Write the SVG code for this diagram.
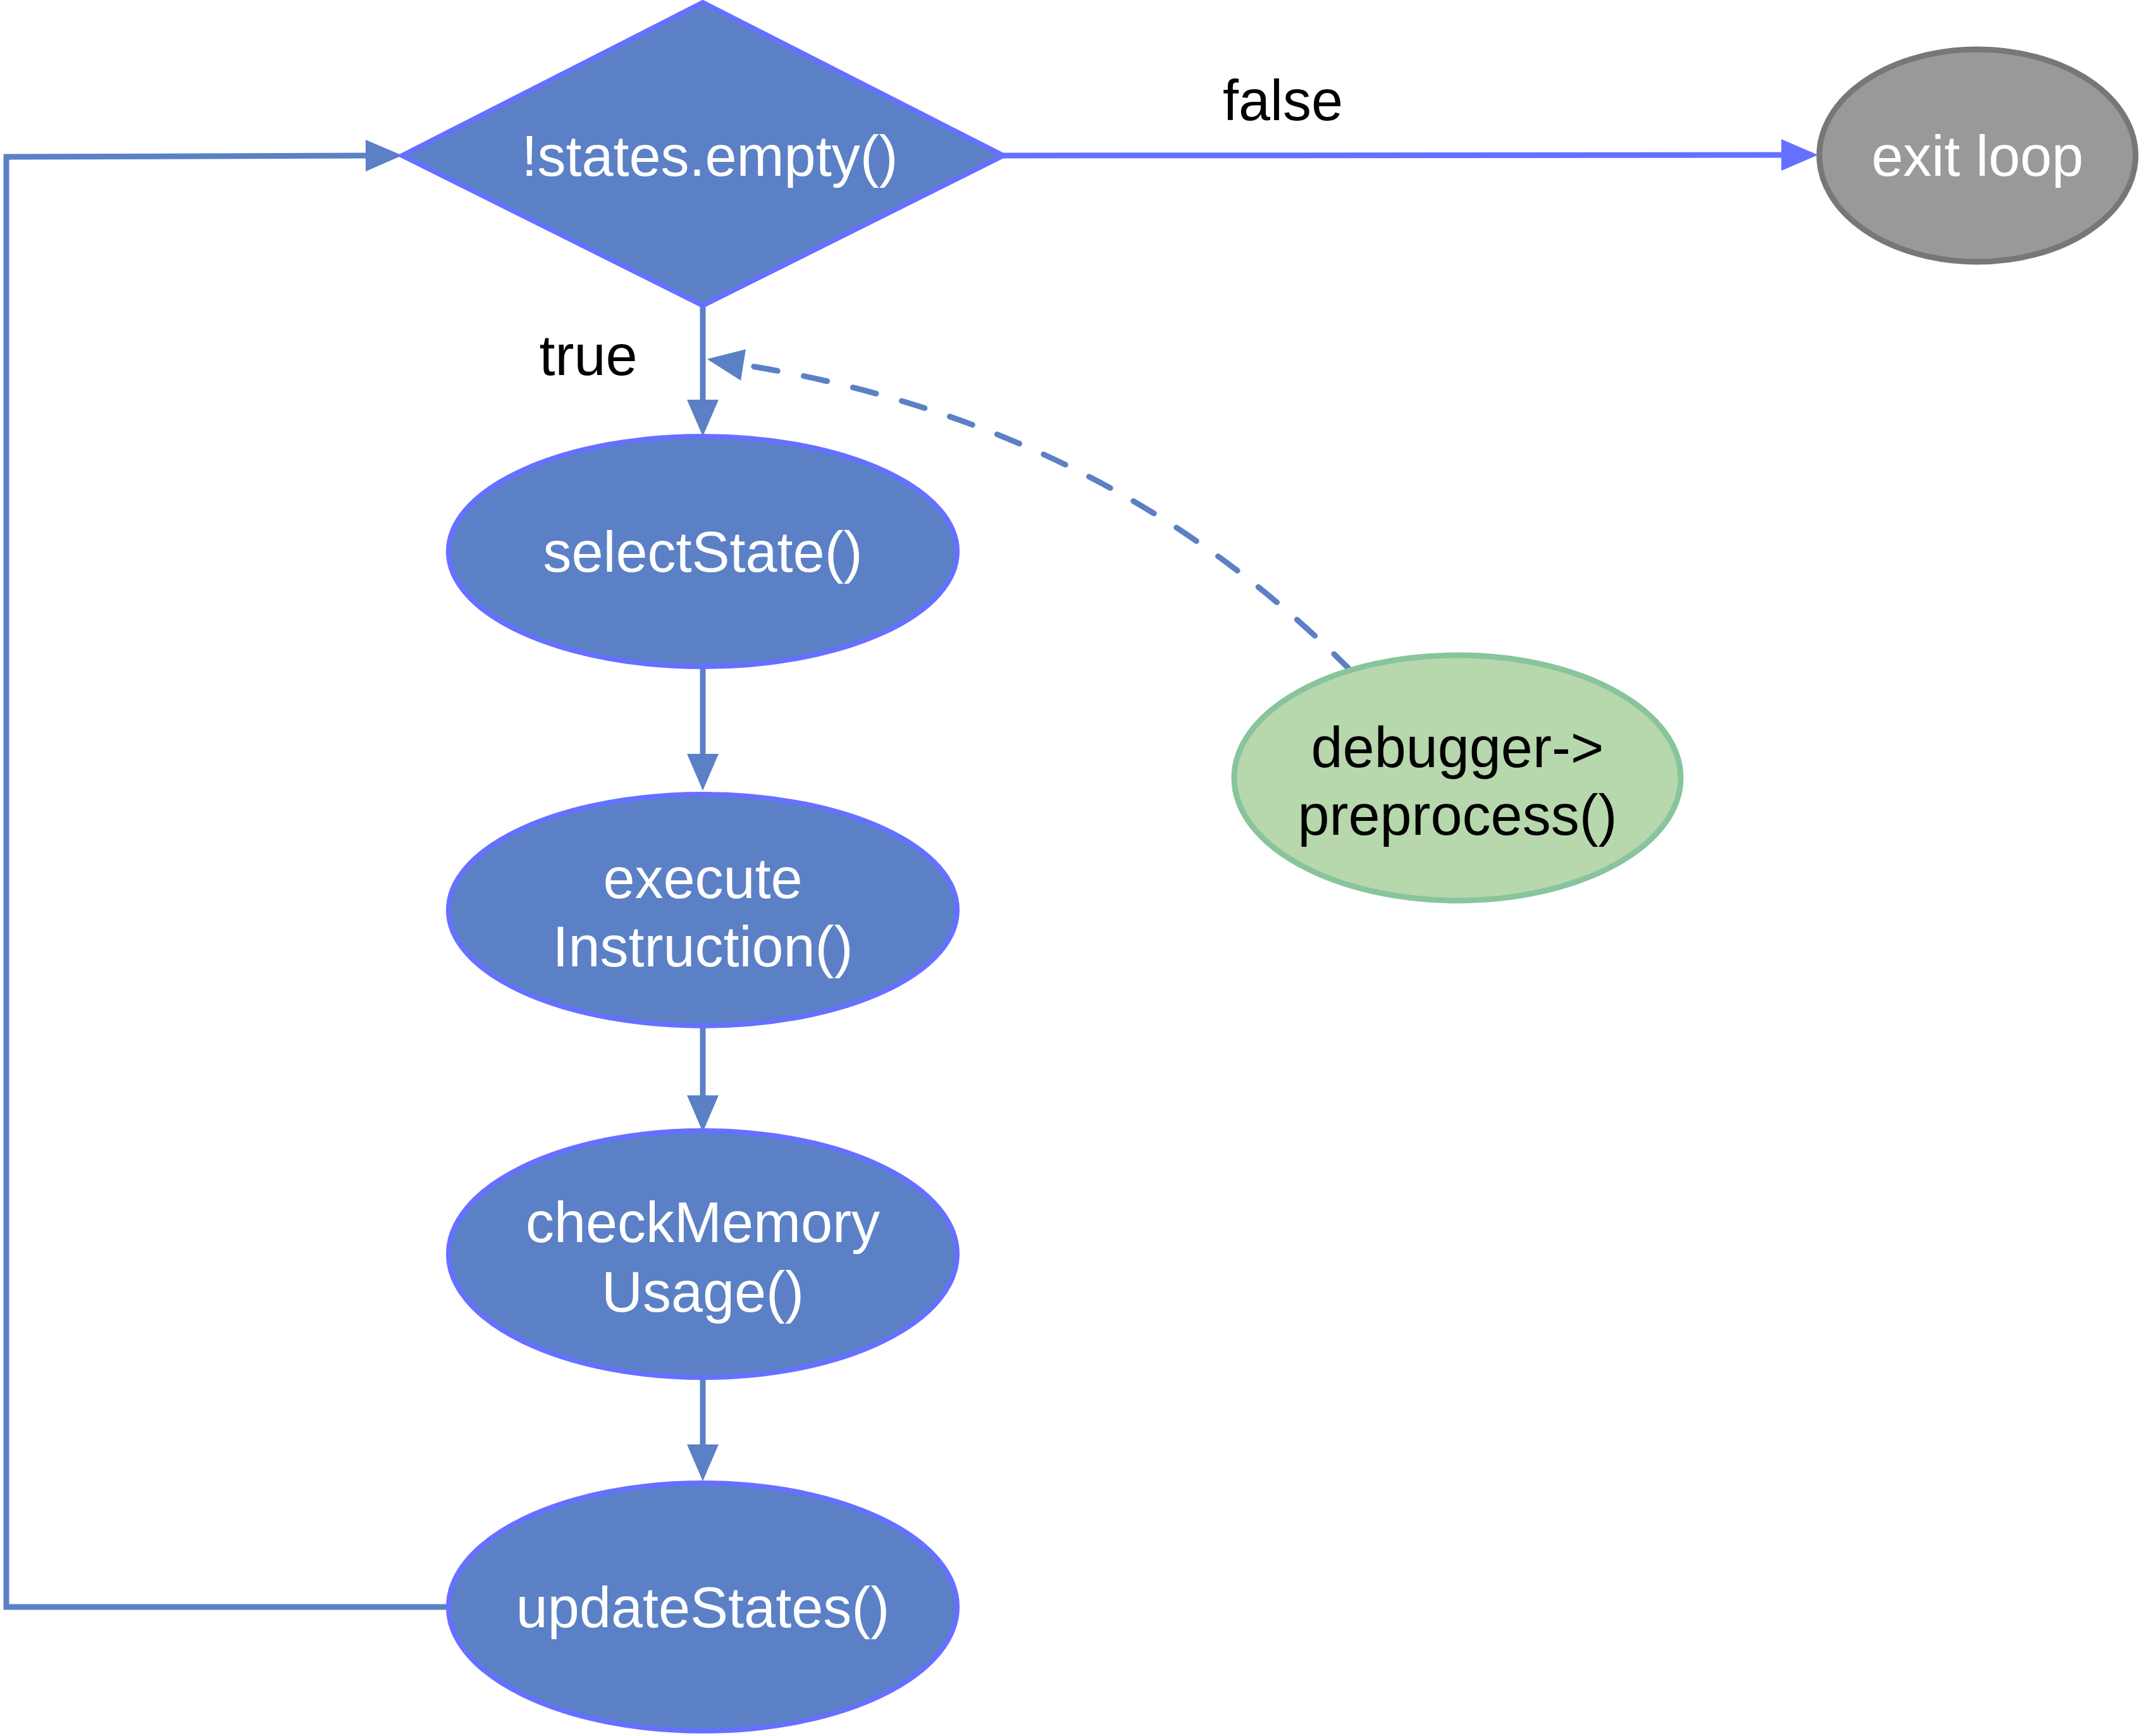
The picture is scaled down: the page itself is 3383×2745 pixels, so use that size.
<svg xmlns="http://www.w3.org/2000/svg" width="3383" height="2745" viewBox="0 0 3383 2745">
<style>
.node{fill:#5B80C5;stroke:#6670FF;stroke-width:8}
.exit{fill:#999999;stroke:#777777;stroke-width:9}
.dbg{fill:#B7D7AC;stroke:#88C49C;stroke-width:9}
.lbl{font-family:"Liberation Sans",Arial,Helvetica,sans-serif;font-size:90px;text-anchor:middle}
.w{fill:#FFFFFF}
.k{fill:#000000}
.edge{fill:none;stroke:#5B80C5;stroke-width:9}
.edgeF{fill:none;stroke:#6670FF;stroke-width:9}
.dash{fill:none;stroke:#5B80C5;stroke-width:9;stroke-dasharray:38 42;stroke-linecap:round}
</style>
<defs>
<marker id="ah" markerUnits="userSpaceOnUse" markerWidth="60" markerHeight="50" refX="0" refY="25" orient="auto" overflow="visible">
<path d="M0,0 L58,25 L0,50 z" fill="#5B80C5"/>
</marker>
<marker id="ahF" markerUnits="userSpaceOnUse" markerWidth="60" markerHeight="50" refX="0" refY="25" orient="auto" overflow="visible">
<path d="M0,0 L58,25 L0,50 z" fill="#6670FF"/>
</marker>
</defs>
<rect width="3383" height="2745" fill="#FFFFFF"/>
<g id="connectors">
<path class="edgeF" d="M1586,246 L2816,245" marker-end="url(#ahF)"/>
<path class="edge" d="M1111,483 L1111,632" marker-end="url(#ah)"/>
<path class="edge" d="M1111,1055 L1111,1192" marker-end="url(#ah)"/>
<path class="edge" d="M1111,1622 L1111,1732" marker-end="url(#ah)"/>
<path class="edge" d="M1111,2177 L1111,2284" marker-end="url(#ah)"/>
<path class="edge" d="M710,2541 L10,2541 L10,248 L578,246" marker-end="url(#ah)"/>
<path class="dash" d="M2136,1061 Q1750,669 1175,577" marker-end="url(#ah)"/>
<text class="lbl k" x="2028" y="190">false</text>
<text class="lbl k" x="930" y="593">true</text>
</g>
<g id="decision">
<polygon class="node" points="1111,4 1586,246 1111,483 636,246"/>
<text class="lbl w" x="1122" y="278">!states.empty()</text>
</g>
<g id="exit-loop">
<ellipse class="exit" cx="3126" cy="246" rx="250" ry="168"/>
<text class="lbl w" x="3126" y="278">exit loop</text>
</g>
<g id="select-state">
<ellipse class="node" cx="1111" cy="872" rx="402" ry="182"/>
<text class="lbl w" x="1111" y="904">selectState()</text>
</g>
<g id="execute-instruction">
<ellipse class="node" cx="1111" cy="1439" rx="402" ry="183"/>
<text class="lbl w" x="1111" y="1420">execute</text>
<text class="lbl w" x="1111" y="1528">Instruction()</text>
</g>
<g id="check-memory">
<ellipse class="node" cx="1111" cy="1983" rx="402" ry="195"/>
<text class="lbl w" x="1111" y="1964">checkMemory</text>
<text class="lbl w" x="1111" y="2074">Usage()</text>
</g>
<g id="update-states">
<ellipse class="node" cx="1111" cy="2541" rx="402" ry="196"/>
<text class="lbl w" x="1111" y="2573">updateStates()</text>
</g>
<g id="debugger-preprocess">
<ellipse class="dbg" cx="2304" cy="1230" rx="353" ry="194"/>
<text class="lbl k" x="2304" y="1213">debugger-&gt;</text>
<text class="lbl k" x="2304" y="1320">preprocess()</text>
</g>
</svg>
